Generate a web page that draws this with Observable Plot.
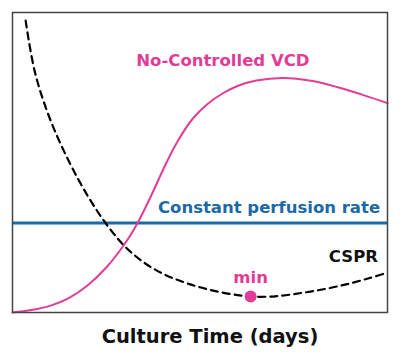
<!DOCTYPE html>
<html>
<head>
<meta charset="utf-8">
<script src="https://cdn.jsdelivr.net/npm/d3@7"></script>
<script src="https://cdn.jsdelivr.net/npm/@observablehq/plot@0.6"></script>
<style>
  html, body { margin: 0; padding: 0; background: #fff; }
</style>
</head>
<body>
<div id="chart"></div>
<script>
// Culture time (arbitrary 0–100 scale) and relative values (0–100)
const vcdTime  = [0, 5, 10, 15, 20, 25, 30, 33.3, 37, 40.5, 44, 48, 52, 56, 60, 65, 72, 80, 87, 94, 100];
const vcdValue = [0, 0.8, 2.2, 4.8, 9, 15, 23, 29.7, 39, 48.5, 57, 64.5, 69.5, 73, 75.5, 77.3, 78.2, 77.2, 75, 72.3, 69.8];

const csprTime  = [3.5, 6, 10, 15, 20, 25, 30, 35, 40, 45, 50, 55, 60, 63.5, 70, 77, 84, 90, 95, 100];
const csprValue = [97.3, 80, 64.5, 50.5, 39, 29.5, 22, 16.7, 13, 10.4, 8.4, 6.9, 5.8, 5.3, 5.4, 6.5, 8, 9.7, 11.4, 13.3];

const constantRate = 29.8;
const minPoint = {time: 63.5, value: 5.3};

const labels = [
  {text: "No-Controlled VCD", time: 56.1, value: 82.3, color: "pink"},
  {text: "Constant perfusion rate", time: 68.4, value: 33.1, color: "blue"},
  {text: "CSPR", time: 90.9, value: 16.8, color: "black"},
  {text: "min", time: 63.5, value: 10, color: "pink"}
];
const xLabel = "Culture Time (days)";

const PINK = "#e23c96";
const BLUE = "#1c69a8";
const colorOf = {pink: PINK, blue: BLUE, black: "#111"};

const vcd = vcdTime.map((t, i) => ({time: t, value: vcdValue[i]}));
const cspr = csprTime.map((t, i) => ({time: t, value: csprValue[i]}));

const chart = Plot.plot({
  width: 400,
  height: 355,
  marginTop: 12,
  marginLeft: 12,
  marginRight: 13,
  marginBottom: 43,
  x: {domain: [0, 100], axis: null},
  y: {domain: [0, 100], axis: null},
  style: {fontFamily: "'DejaVu Sans', Verdana, sans-serif", background: "#fff", overflow: "visible"},
  marks: [
    Plot.ruleY([constantRate], {stroke: BLUE, strokeWidth: 3}),
    Plot.line(cspr, {x: "time", y: "value", curve: "catmull-rom", stroke: "#000", strokeWidth: 2.2, strokeDasharray: "7,5"}),
    Plot.line(vcd, {x: "time", y: "value", curve: "catmull-rom", stroke: PINK, strokeWidth: 2}),
    Plot.dot([minPoint], {x: "time", y: "value", r: 6, fill: PINK, stroke: null}),
    Plot.text(labels, {x: "time", y: "value", text: "text", fill: d => colorOf[d.color], fontSize: 16.5, fontWeight: "bold", lineAnchor: "bottom", textAnchor: "middle"}),
    Plot.frame({stroke: "#444", strokeWidth: 1.5}),
    Plot.text([xLabel], {text: d => d, frameAnchor: "bottom", lineAnchor: "bottom", dy: 30, dx: 10, fontSize: 19.5, fontWeight: "bold", fill: "#111"})
  ]
});
document.getElementById("chart").appendChild(chart);
</script>
</body>
</html>
